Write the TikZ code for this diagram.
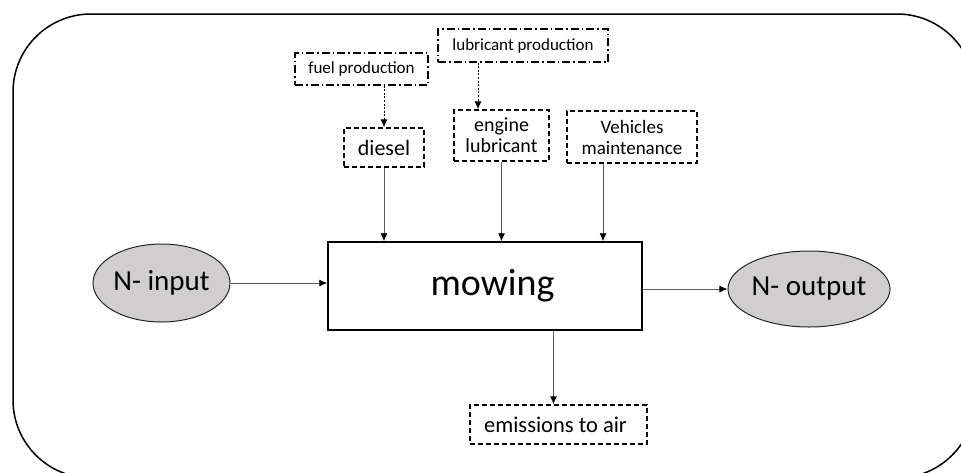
\documentclass[tikz,border=0pt]{standalone}
\usepackage{fontspec}
\setmainfont{Carlito}
\usetikzlibrary{arrows.meta,shapes.geometric}
\definecolor{ovalgray}{RGB}{208,206,206}
\definecolor{linegray}{RGB}{90,90,90}
\begin{document}
\begin{tikzpicture}[x=1pt,y=-1pt,
  flow/.style={draw=linegray,line width=0.9pt,-{Latex[length=8pt,width=7pt,color=black]}},
  supply/.style={draw=black,line width=0.9pt,dash pattern=on 2pt off 1.6pt,-{Latex[length=8pt,width=7pt]}},
  dbox/.style={draw,line width=1.4pt,dash pattern=on 5pt off 3pt,inner sep=0pt,align=center},
  pbox/.style={draw,line width=1.3pt,dash pattern=on 8pt off 3pt on 1.5pt off 3pt,inner sep=0pt,font=\fontsize{17}{19}\selectfont},
  nval/.style={ellipse,draw=black!85,fill=ovalgray,line width=1pt,inner sep=0pt,font=\fontsize{29}{31}\selectfont}]
\useasboundingbox (0,0) rectangle (961,472);
\clip (0,0) rectangle (961,472);
\draw[line width=1.5pt,rounded corners=78pt] (13,14) rectangle (975,478);
\node[draw,line width=1.5pt,minimum width=314pt,minimum height=88pt,font=\fontsize{38}{40}\selectfont] (mowing) at (485,286) {\hspace{15pt}mowing};
\node[nval,minimum width=137pt,minimum height=78pt] (nin) at (161.5,283) {N- input};
\node[nval,minimum width=142pt,minimum height=76pt] (nout) at (809,289) {N- output};
\node[pbox,minimum width=133pt,minimum height=32pt] (fuel) at (361.5,69) {fuel production};
\node[pbox,minimum width=170pt,minimum height=33pt] (lubprod) at (523,45.5) {lubricant production};
\node[dbox,minimum width=80pt,minimum height=39pt,font=\fontsize{22}{24}\selectfont] (diesel) at (384,147.5) {diesel};
\node[dbox,minimum width=95pt,minimum height=51pt,font=\fontsize{20}{21}\selectfont] (englub) at (501.5,135.5) {engine\\lubricant};
\node[dbox,minimum width=130pt,minimum height=52pt,font=\fontsize{19}{21}\selectfont] (maint) at (632,137) {Vehicles\\maintenance};
\node[dbox,minimum width=177pt,minimum height=39pt,font=\fontsize{22.5}{24}\selectfont] (emis) at (558.5,424.5) {emissions to air\hspace{6pt}};
\coordinate (lp) at ([xshift=-45pt]lubprod.south);
\coordinate (mt) at ([xshift=-29pt]maint.south);
\coordinate (em) at ([xshift=-5pt]emis.north);
\draw[supply] (diesel.north |- fuel.south) -- (diesel.north);
\draw[supply] (lp) -- (lp |- englub.north);
\draw[flow] (diesel.south) -- (diesel.south |- mowing.north);
\draw[flow] (englub.south) -- (englub.south |- mowing.north);
\draw[flow] (mt) -- (mt |- mowing.north);
\draw[flow] (em |- mowing.south) -- (em);
\draw[flow] (nin.east) -- (nin.east -| mowing.west);
\draw[flow] (mowing.east |- nout.west) -- (nout.west);
\end{tikzpicture}
\end{document}
